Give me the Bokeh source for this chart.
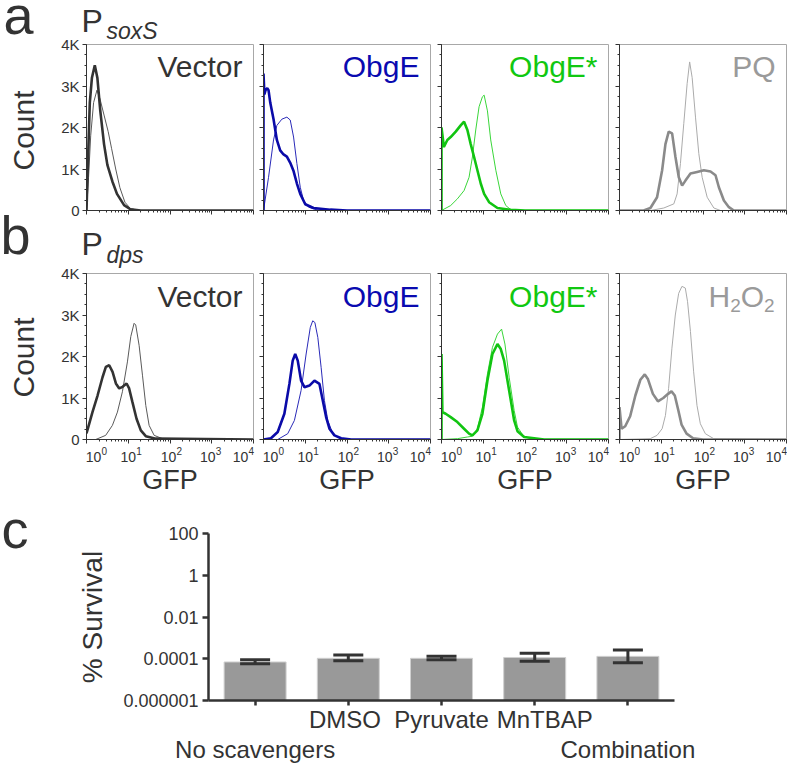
import math
from bokeh.plotting import figure
from bokeh.models import (Range1d, FactorRange, Label, SingleIntervalTicker, LogTicker, CategoricalAxis,
                          FixedTicker, CustomJSTickFormatter, Whisker, TeeHead, ColumnDataSource)
from bokeh.layouts import row, column
from bokeh.embed import file_html
from bokeh.resources import INLINE

FONT = "Liberation Sans"
DARK = "#333333"

# ---------------- axis tick data ----------------
gfp_ticks = [1, 10, 100, 1000, 10000]
gfp_tick_base = ["10", "10", "10", "10", "10"]
gfp_tick_exp = ["0", "1", "2", "3", "4"]
count_ticks = [0, 1000, 2000, 3000, 4000]
count_tick_labels = ["0", "1K", "2K", "3K", "4K"]

panel_names = ["Vector", "ObgE", "ObgE*", "PQ"]          # row a (P soxS)
panel_names_b = ["Vector", "ObgE", "ObgE*", "H2O2"]      # row b (P dps)

# ---------------- P_soxS histograms (GFP, count) ----------------
soxs_vector_thick_gfp = [1.0, 1.07, 1.2, 1.35, 1.58, 1.82, 2.14, 2.63, 3.16, 4.17, 5.37, 7.94, 11.2, 20.0, 10000]
soxs_vector_thick_count = [0, 1000, 2600, 3200, 3500, 3200, 2400, 1600, 1100, 700, 400, 130, 30, 0, 0]
soxs_vector_thin_gfp = [1.0, 1.12, 1.26, 1.48, 1.78, 2.09, 2.63, 3.31, 3.98, 5.01, 6.31, 8.32, 11.2, 17.8, 10000]
soxs_vector_thin_count = [0, 800, 1800, 2600, 2900, 2700, 2300, 1900, 1500, 1000, 550, 200, 50, 0, 0]

soxs_obge_thick_gfp = [1.0, 1.0, 1.05, 1.12, 1.23, 1.32, 1.45, 1.74, 2.09, 2.51, 3.02, 3.63, 4.37, 5.25, 6.31, 7.59, 10.0, 15.8, 39.8, 100, 10000]
soxs_obge_thick_count = [0, 3300, 2800, 2900, 2950, 2900, 2600, 2200, 1700, 1450, 1350, 1300, 1150, 950, 650, 400, 150, 60, 20, 0, 0]
soxs_obge_thin_gfp = [1.0, 1.32, 1.74, 2.09, 2.75, 3.63, 4.37, 5.25, 6.31, 7.59, 9.12, 12.0, 19.1, 30.0, 10000]
soxs_obge_thin_count = [0, 800, 1700, 2050, 2200, 2250, 2180, 1770, 1130, 560, 240, 80, 15, 0, 0]

soxs_obgestar_thick_gfp = [1.0, 1.0, 1.14, 1.38, 1.66, 2.19, 2.88, 3.47, 4.17, 5.01, 6.03, 7.24, 8.71, 10.5, 13.8, 21.9, 45.7, 100, 10000]
soxs_obgestar_thick_count = [0, 2000, 1530, 1700, 1770, 1900, 2050, 2140, 1940, 1600, 1290, 970, 650, 400, 200, 60, 15, 0, 0]
soxs_obgestar_thin_gfp = [1.0, 1.66, 2.40, 3.47, 4.57, 5.50, 6.61, 7.94, 9.55, 10.5, 12.6, 15.1, 20.0, 26.3, 34.7, 45.7, 100, 10000]
soxs_obgestar_thin_count = [0, 120, 280, 480, 800, 1290, 1940, 2500, 2740, 2780, 2400, 1700, 970, 400, 120, 20, 0, 0]

soxs_pq_thick_gfp = [1.0, 3.80, 5.50, 7.94, 10.5, 12.6, 15.1, 18.2, 21.9, 26.3, 31.6, 38.0, 50.1, 72.4, 104.7, 151.4, 199.5, 239.9, 316.2, 416.9, 549.5, 10000]
soxs_pq_thick_count = [0, 0, 60, 320, 970, 1600, 1900, 1860, 1290, 800, 600, 720, 890, 930, 970, 940, 850, 560, 240, 80, 0, 0]
soxs_pq_thin_gfp = [1.0, 5.50, 11.5, 20.0, 24.0, 28.8, 34.7, 41.7, 47.9, 55.0, 66.1, 79.4, 95.5, 125.9, 182.0, 263.0, 10000]
soxs_pq_thin_count = [0, 0, 60, 160, 400, 1130, 2100, 3060, 3580, 3200, 2250, 1370, 800, 320, 60, 0, 0]

# ---------------- P_dps histograms (GFP, count) ----------------
dps_vector_thick_gfp = [1.0, 1.39, 1.84, 2.42, 2.91, 3.50, 4.21, 5.06, 6.08, 7.31, 9.12, 10.5, 12.6, 15.8, 20.0, 26.3, 45.7, 10000]
dps_vector_thick_count = [150, 660, 1060, 1500, 1750, 1790, 1630, 1350, 1230, 1270, 1350, 1230, 900, 500, 220, 80, 20, 0]
dps_vector_thin_gfp = [1.0, 1.66, 2.88, 4.17, 5.50, 7.24, 9.55, 11.5, 13.8, 15.1, 18.2, 21.9, 26.3, 31.6, 41.7, 66.1, 10000]
dps_vector_thin_count = [0, 0, 100, 340, 660, 1150, 1870, 2480, 2800, 2760, 2270, 1550, 820, 340, 100, 20, 0]

dps_obge_thick_gfp = [1.0, 1.51, 2.19, 3.16, 4.17, 5.01, 5.75, 6.61, 7.94, 9.55, 12.6, 16.6, 21.9, 26.3, 31.6, 38.0, 50.1, 72.4, 125.9, 10000]
dps_obge_thick_count = [0, 30, 180, 620, 1340, 1900, 2060, 1900, 1420, 1260, 1300, 1420, 1340, 940, 540, 260, 100, 30, 0, 0]
dps_obge_thin_gfp = [1.0, 2.19, 3.80, 5.50, 7.94, 10.5, 13.2, 15.1, 17.0, 20.0, 24.0, 28.8, 34.7, 45.7, 66.1, 104.7, 10000]
dps_obge_thin_count = [0, 0, 140, 460, 1180, 2060, 2700, 2860, 2820, 2460, 1740, 940, 460, 140, 30, 0, 0]

dps_obgestar_thick_gfp = [1.0, 1.0, 1.05, 1.26, 1.66, 2.40, 3.47, 4.57, 5.50, 7.24, 9.55, 12.6, 16.6, 21.9, 26.3, 31.6, 41.7, 55.0, 66.1, 95.5, 288.4, 10000]
dps_obgestar_thick_count = [0, 2060, 660, 620, 540, 420, 260, 140, 100, 220, 620, 1420, 2060, 2300, 2180, 1900, 1180, 460, 200, 60, 0, 0]
dps_obgestar_thin_gfp = [1.0, 2.40, 4.17, 5.50, 7.24, 9.55, 12.6, 16.6, 21.9, 27.5, 33.1, 41.7, 55.0, 66.1, 95.5, 199.5, 10000]
dps_obgestar_thin_count = [0, 20, 60, 80, 260, 780, 1580, 2220, 2540, 2660, 2300, 1500, 700, 300, 60, 0, 0]

dps_h2o2_thick_gfp = [1.0, 1.0, 1.12, 1.37, 1.80, 2.40, 3.16, 4.03, 4.82, 6.31, 8.32, 11.2, 14.6, 17.6, 21.1, 25.7, 30.6, 40.4, 57.9, 100, 10000]
dps_h2o2_thick_count = [0, 780, 260, 320, 560, 1060, 1440, 1570, 1450, 1100, 920, 1000, 1100, 1160, 1060, 700, 360, 140, 30, 0, 0]
dps_h2o2_thin_gfp = [1.0, 5.45, 7.94, 10.5, 12.6, 15.0, 18.0, 21.7, 26.1, 31.3, 37.7, 42.7, 50.1, 59.7, 71.8, 86.3, 113.8, 180.3, 10000]
dps_h2o2_thin_count = [0, 20, 100, 260, 580, 1230, 2200, 3000, 3520, 3690, 3650, 3320, 2600, 1630, 820, 380, 140, 20, 0]

# ---------------- survival bar chart ----------------
survival_conditions = ["No scavengers", "DMSO", "Pyruvate", "MnTBAP", "Combination"]
survival_mean = [7.0e-5, 1.05e-4, 1.05e-4, 1.15e-4, 1.3e-4]
survival_upper = [9.0e-5, 1.5e-4, 1.3e-4, 1.85e-4, 2.65e-4]
survival_lower = [5.8e-5, 8.0e-5, 9.0e-5, 7.5e-5, 6.5e-5]
survival_ticks = [1e-6, 1e-4, 1e-2, 1, 100]
survival_tick_labels = ["0.000001", "0.0001", "0.01", "1", "100"]
survival_label_row = [1, 0, 0, 0, 1]   # 1 = label on the lower line

# ---------------- styles / layout ----------------
label_colors = ["#333333", "#0a0ab0", "#11c811", "#9a9a9a"]
thick_colors = ["#333333", "#0a0aa8", "#11c411", "#8a8a8a"]
thin_colors = ["#5a5a5a", "#2a2ab8", "#3ad63a", "#ababab"]
cat_pad_left = [0, 0, 0, 3, 0]     # non-breaking spaces to nudge crowded labels
cat_pad_right = [0, 1, 0, 0, 0]
PAGE_W, PAGE_H = 787, 765
LETTER_W = 40          # strip holding a / b / c and the Count titles
YLAB_W = 41            # strip holding the count tick labels
cols_left = [5, 5, 6, 6]
cols_right = [5, 5, 5, 1]
FRAME_W = 167
FRAME_H = 166
DECADE_PX = FRAME_W / 4.0
PANEL_T, PANEL_B = 1, 6
HEAD_A, HEAD_B = 43, 56
ROW_A_H = HEAD_A + PANEL_T + FRAME_H + PANEL_B
ROW_B_H = HEAD_B + PANEL_T + FRAME_H + PANEL_B
HT = 50
TOP_H = ROW_A_H + ROW_B_H + HT
HC = PAGE_H - TOP_H
FRAME_A_TOP = HEAD_A + PANEL_T
FRAME_B_TOP = ROW_A_H + HEAD_B + PANEL_T
tick_base_off = [7, 0, -1.5, -4, -13]
MID = 0.3465   # distance (in em) from the text middle to the alphabetic baseline

JS_LOG_LOOKUP = """
for (let i = 0; i < tv.length; i++) {
  if (Math.abs(Math.log10(tv[i]) - Math.log10(tick)) < 1e-6) return tl[i];
}
return "";
"""
JS_BLANK = "return '';"
JS_CAT_ROW = """
const i = cats.indexOf(tick);
if (i < 0 || rows[i] != r) return '';
return '\\u00a0'.repeat(pl[i]) + cats[i] + '\\u00a0'.repeat(pr[i]);
"""


def lab(p, x, y, text, size, xo=0, yo=0, align="left", color=DARK, style="normal", angle=0.0,
        baseline=True, y_range_name="default"):
    """Text whose alphabetic baseline (or middle, if baseline=False) sits at (x, y) + (xo, yo) px."""
    px = float(size.replace("px", ""))
    shift = MID * px if (baseline and angle == 0.0) else 0.0
    p.add_layout(Label(x=x, y=y, text=text, x_offset=xo, y_offset=yo + shift, text_align=align,
                       text_baseline="middle", text_font=FONT, text_font_size=size,
                       text_color=color, text_font_style=style, angle=angle, y_range_name=y_range_name))


def strip(width, height, x_range, y_range, x_axis_type="linear"):
    s = figure(width=width, height=height, x_range=x_range, y_range=y_range, x_axis_type=x_axis_type,
               x_axis_location=None, y_axis_location=None, output_backend="svg", toolbar_location=None,
               min_border_left=0, min_border_right=0, min_border_top=0, min_border_bottom=0)
    s.outline_line_color = None
    s.grid.visible = False
    s.background_fill_color = "white"
    s.border_fill_color = "white"
    return s


def hist_panel(ci, thick, thin):
    p = figure(width=cols_left[ci] + FRAME_W + cols_right[ci], height=PANEL_T + FRAME_H + PANEL_B,
               x_axis_type="log", x_range=Range1d(1, 10000), y_range=Range1d(0, 4000),
               output_backend="svg", toolbar_location=None,
               min_border_left=cols_left[ci], min_border_right=cols_right[ci],
               min_border_top=PANEL_T, min_border_bottom=PANEL_B)
    p.outline_line_color = "#a8a8a8"
    p.outline_line_width = 1
    p.xgrid.visible = False
    p.ygrid.visible = False
    p.background_fill_color = "white"
    p.border_fill_color = "white"

    ya = p.yaxis[0]
    ya.ticker = SingleIntervalTicker(interval=1000, num_minor_ticks=4)
    ya.formatter = CustomJSTickFormatter(code=JS_BLANK)
    ya.major_label_text_font = FONT
    ya.major_label_text_font_size = "1px"
    ya.major_label_standoff = 0
    xa = p.xaxis[0]
    xa.ticker = LogTicker(num_minor_ticks=10)
    xa.formatter = CustomJSTickFormatter(code=JS_BLANK)
    xa.major_label_text_font = FONT
    xa.major_label_text_font_size = "1px"
    xa.major_label_standoff = 0
    for ax in (ya, xa):
        ax.axis_line_color = DARK
        ax.major_tick_line_color = DARK
        ax.minor_tick_line_color = DARK
        ax.major_tick_out = 4
        ax.major_tick_in = 0
        ax.minor_tick_out = 2
        ax.minor_tick_in = 0

    p.line(thin[0], thin[1], line_width=1.0, line_color=thin_colors[ci])
    p.line(thick[0], thick[1], line_width=2.6, line_color=thick_colors[ci])
    return p


def count_range(frame_top_px, height):
    """Count-unit range of a strip of given height whose top is frame_top_px above the frame top."""
    per_px = 4000.0 / FRAME_H
    top = 4000 + frame_top_px * per_px
    return Range1d(top - height * per_px, top)


def tick_strip(ci, height):
    w = cols_left[ci] + FRAME_W + cols_right[ci]
    xr = Range1d(10 ** (-cols_left[ci] / DECADE_PX), 10 ** (4 + cols_right[ci] / DECADE_PX))
    s = strip(w, height, xr, Range1d(0, height), x_axis_type="log")
    for i in range(len(gfp_ticks)):
        lab(s, gfp_ticks[i], 34, gfp_tick_base[i], "14px", xo=tick_base_off[i], align="center")
        lab(s, gfp_ticks[i], 41, gfp_tick_exp[i], "10px", xo=tick_base_off[i] + 8, align="left")
    lab(s, 100, 6, "GFP", "27px", align="center")
    return s


# ---------------- data grouping ----------------
row_a_data = [
    ((soxs_vector_thick_gfp, soxs_vector_thick_count), (soxs_vector_thin_gfp, soxs_vector_thin_count)),
    ((soxs_obge_thick_gfp, soxs_obge_thick_count), (soxs_obge_thin_gfp, soxs_obge_thin_count)),
    ((soxs_obgestar_thick_gfp, soxs_obgestar_thick_count), (soxs_obgestar_thin_gfp, soxs_obgestar_thin_count)),
    ((soxs_pq_thick_gfp, soxs_pq_thick_count), (soxs_pq_thin_gfp, soxs_pq_thin_count)),
]
row_b_data = [
    ((dps_vector_thick_gfp, dps_vector_thick_count), (dps_vector_thin_gfp, dps_vector_thin_count)),
    ((dps_obge_thick_gfp, dps_obge_thick_count), (dps_obge_thin_gfp, dps_obge_thin_count)),
    ((dps_obgestar_thick_gfp, dps_obgestar_thick_count), (dps_obgestar_thin_gfp, dps_obgestar_thin_count)),
    ((dps_h2o2_thick_gfp, dps_h2o2_thick_count), (dps_h2o2_thin_gfp, dps_h2o2_thin_count)),
]

RIGHT_W = PAGE_W - LETTER_W
HEAD_W = RIGHT_W - YLAB_W

# ---------------- letter strip (page coordinates, y measured upward) ----------------
letters = strip(LETTER_W, PAGE_H, Range1d(0, LETTER_W), Range1d(0, PAGE_H))
lab(letters, 3, PAGE_H - 33, "a", "54px")
lab(letters, 0, PAGE_H - 253, "b", "54px")
lab(letters, 1, PAGE_H - 547, "c", "54px")
lab(letters, 22.6, PAGE_H - 130, "Count", "30px", align="center", angle=math.pi / 2, baseline=False)
lab(letters, 22.6, PAGE_H - 357, "Count", "30px", align="center", angle=math.pi / 2, baseline=False)

# ---------------- count tick-label strip (spans rows a and b) ----------------
ylab = strip(YLAB_W, TOP_H, Range1d(0, YLAB_W), count_range(FRAME_A_TOP, TOP_H))
ylab.extra_y_ranges = {"rowb": count_range(FRAME_B_TOP, TOP_H)}
for i in range(len(count_ticks)):
    lab(ylab, YLAB_W - 2, count_ticks[i], count_tick_labels[i], "15px", align="right", baseline=False)
    lab(ylab, YLAB_W - 2, count_ticks[i], count_tick_labels[i], "15px", align="right", baseline=False,
        y_range_name="rowb")

# ---------------- row a ----------------
head_a = strip(HEAD_W, HEAD_A, Range1d(0, HEAD_W), Range1d(0, HEAD_A))
lab(head_a, 0, HEAD_A - 32, "P", "32px")
lab(head_a, 25, HEAD_A - 38, "soxS", "23px", style="italic")

panels_a = []
for ci in range(4):
    thick, thin = row_a_data[ci]
    p = hist_panel(ci, thick, thin)
    lab(p, 10000, 4000, panel_names[ci], "30px", xo=-11, yo=-32, align="right", color=label_colors[ci])
    panels_a.append(p)

# ---------------- row b ----------------
head_b = strip(HEAD_W, HEAD_B, Range1d(0, HEAD_W), Range1d(0, HEAD_B))
lab(head_b, 0, HEAD_B - 39, "P", "32px")
lab(head_b, 25, HEAD_B - 46, "dps", "23px", style="italic")

panels_b = []
for ci in range(4):
    thick, thin = row_b_data[ci]
    p = hist_panel(ci, thick, thin)
    if ci < 3:
        lab(p, 10000, 4000, panel_names_b[ci], "30px", xo=-11, yo=-33, align="right", color=label_colors[ci])
    else:
        lab(p, 10000, 4000, "H", "30px", xo=-78, yo=-33, color=label_colors[ci])
        lab(p, 10000, 4000, "2", "19px", xo=-56.3, yo=-39, color=label_colors[ci])
        lab(p, 10000, 4000, "O", "30px", xo=-45.7, yo=-33, color=label_colors[ci])
        lab(p, 10000, 4000, "2", "19px", xo=-22.4, yo=-39, color=label_colors[ci])
    panels_b.append(p)

ticks_b = row(*[tick_strip(ci, HT) for ci in range(4)])
top_right = column(head_a, row(*panels_a), head_b, row(*panels_b), ticks_b)

# ---------------- panel c ----------------
pc = figure(width=664, height=HC, x_range=FactorRange(factors=survival_conditions),
            y_axis_type="log", y_range=Range1d(1e-6, 100),
            output_backend="svg", toolbar_location=None,
            min_border_left=168, min_border_right=30, min_border_top=HC - 169 - 63, min_border_bottom=63)
pc.outline_line_color = None
pc.xgrid.visible = False
pc.ygrid.visible = False
pc.background_fill_color = "white"
pc.border_fill_color = "white"

src = ColumnDataSource(dict(cond=survival_conditions, mean=survival_mean,
                            upper=survival_upper, lower=survival_lower))
pc.vbar(x="cond", top="mean", bottom=1e-6, width=0.665, source=src,
        fill_color="#999999", line_color="#d0d0d0", line_width=1)
pc.add_layout(Whisker(base="cond", upper="upper", lower="lower", source=src, level="overlay",
                      line_color=DARK, line_width=3,
                      upper_head=TeeHead(size=30, line_color=DARK, line_width=3),
                      lower_head=TeeHead(size=30, line_color=DARK, line_width=3)))

ya = pc.yaxis[0]
ya.ticker = FixedTicker(ticks=survival_ticks, minor_ticks=[])
ya.formatter = CustomJSTickFormatter(args=dict(tv=survival_ticks, tl=survival_tick_labels), code=JS_LOG_LOOKUP)
ya.major_label_text_font = FONT
ya.major_label_text_font_size = "18px"
ya.major_label_text_color = DARK
ya.major_label_standoff = 4
ya.axis_line_color = DARK
ya.axis_line_width = 2.5
ya.major_tick_line_color = DARK
ya.major_tick_line_width = 2.5
ya.major_tick_out = 6
ya.major_tick_in = 0
ya.minor_tick_line_color = None
ya.axis_label = "% Survival"
ya.axis_label_text_font = FONT
ya.axis_label_text_font_size = "28px"
ya.axis_label_text_font_style = "normal"
ya.axis_label_text_color = DARK
ya.axis_label_standoff = 12


def style_cat_axis(ax):
    ax.major_label_text_font = FONT
    ax.major_label_text_font_size = "24px"
    ax.major_label_text_color = DARK
    ax.major_label_standoff = 0
    ax.minor_tick_line_color = None
    ax.major_tick_in = 0


def cat_formatter(r):
    return CustomJSTickFormatter(args=dict(cats=survival_conditions, rows=survival_label_row, r=r,
                                           pl=cat_pad_left, pr=cat_pad_right), code=JS_CAT_ROW)


xa = pc.xaxis[0]
xa.formatter = cat_formatter(0)
style_cat_axis(xa)
xa.axis_line_color = DARK
xa.axis_line_width = 2.5
xa.major_tick_line_color = DARK
xa.major_tick_line_width = 2.5
xa.major_tick_out = 5

xb = CategoricalAxis(formatter=cat_formatter(1))
style_cat_axis(xb)
xb.axis_line_color = None
xb.major_tick_line_color = None
xb.major_tick_out = 0
pc.add_layout(xb, "below")

right = column(row(ylab, top_right), pc)
layout = row(letters, right)
open("out.html", "w").write(file_html(layout, INLINE, title="ObgE ROS figure"))
